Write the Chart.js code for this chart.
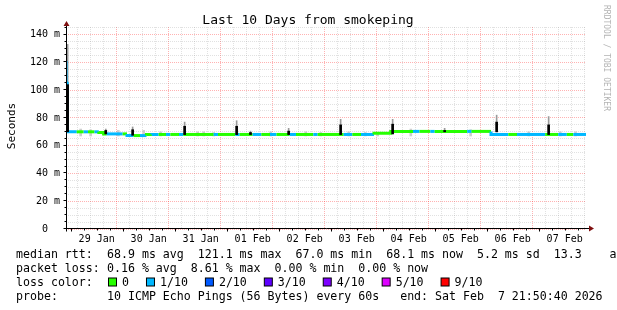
<!DOCTYPE html>
<html>
<head>
<meta charset="utf-8">
<script src="https://cdn.jsdelivr.net/npm/chart.js@4.4.1/dist/chart.umd.min.js"></script>
<style>
  html, body { margin: 0; padding: 0; background: #fff; }
  canvas { display: block; }
</style>
</head>
<body>
<canvas id="chart" width="617" height="310"></canvas>
<script>
// x values are hours relative to 29 Jan 00:00
// graph spans 28 Jan 21:50:40 .. 07 Feb 21:50:40
const START_H = -2.156
const END_H = 237.844

const dayLabels = ['29 Jan', '30 Jan', '31 Jan', '01 Feb', '02 Feb', '03 Feb', '04 Feb', '05 Feb', '06 Feb', '07 Feb']

// median rtt in ms, each value holds until the next entry
const medianHours = [-2.156, -1.6, -0.9, 2.8, 6, 8, 11, 13, 15.2, 16.6, 24, 26, 29, 32, 35, 37.5, 40.6, 44, 46, 50,
  52, 66, 68, 76, 78, 84, 88, 92, 95, 101, 104, 112, 114, 126, 130, 134, 140, 147.7, 154.2, 158,
  161, 166, 168, 183, 185, 194, 202, 206, 219, 225, 229, 232, 237.844]
const medianMs = [121, 105, 70, 70, 70, 70, 70, 70, 69.5, 68.5, 68.5, 68.5, 67.3, 67.3, 67.3, 68, 68.1, 68.1, 68.1, 68.1,
  68.1, 68.1, 68.1, 68.1, 68.1, 68.1, 68.1, 68.1, 68.1, 68.1, 68.1, 68.1, 68.1, 68.1, 68.1, 68.1, 68.1, 69, 70.3, 70.3,
  70.3, 70.3, 70.3, 70.3, 70.3, 70.3, 68.1, 68.1, 68.1, 68.1, 68.1, 68.1, 68.1]
// packet loss bucket of each step (index into lossColors)
const medianLoss = [1, 1, 1, 0, 1, 0, 1, 0, 0, 1, 0, 1, 0, 1, 0, 1, 0, 1, 0, 1,
  0, 1, 0, 1, 0, 1, 0, 1, 0, 1, 0, 1, 0, 1, 0, 1, 0, 0, 0, 1,
  0, 1, 0, 1, 0, 1, 0, 1, 0, 1, 0, 1, 1]

const lossColors = ['#26ff00', '#00b8ff', '#0059ff', '#5e00ff', '#7e00ff', '#dd00ff', '#ff0000']
const lossLabels = ['0', '1/10', '2/10', '3/10', '4/10', '5/10', '9/10']

// faint smoke above the median
const smokeHours = [4.6, 9.2, 22, 33.7, 41.5, 58.6, 61.4, 66, 92.3, 108.5, 115.4, 128.3, 136, 141.7, 157, 184.6, 211.4, 226, 233]
const smokeHigh = [72, 71.5, 71, 71, 70, 70, 70, 69.5, 70, 70, 69.5, 70, 69.5, 69.5, 72, 71.5, 70, 70, 70]

// ping bursts: dark core and grey whisker
const spikeHours = [-1.4, 16.2, 28.6, 52.6, 76.6, 83, 100.6, 124.6, 148.6, 172.6, 196.6, 220.6]
const spikeLow = [70, 68.5, 67.5, 68, 68, 68, 68, 68, 68.5, 70, 70, 68]
const spikeMid = [104, 71, 71.5, 74, 74, 69.5, 70.5, 75, 75.5, 71, 77, 75]
const spikeHigh = [133, 72, 73.5, 77, 78, 70.5, 72.5, 79, 79, 72.5, 82, 81]

const titleText = 'Last 10 Days from smokeping'
const yTitle = 'Seconds'
const watermark = 'RRDTOOL / TOBI OETIKER'
const rttLine = ['median rtt:', '68.9 ms avg  121.1 ms max  67.0 ms min  68.1 ms now  5.2 ms sd  13.3    am/as']
const lossLine = ['packet loss:', '0.16 % avg  8.61 % max  0.00 % min  0.00 % now']
const colorLine = 'loss color:'
const probeLine = ['probe:', '10 ICMP Echo Pings (56 Bytes) every 60s   end: Sat Feb  7 21:50:40 2026']

const MONO = 'DejaVu Sans Mono'
const MAJOR = 'rgba(255,0,0,0.3)'
const MINOR = 'rgba(120,120,120,0.22)'
const ARROW = '#7f1010'

const rrdDecor = {
  id: 'rrdDecor',
  afterDraw(chart) {
    const { ctx, chartArea: a, scales: { x, y } } = chart
    const ax = a.left + 0.5
    const ay = Math.round(y.getPixelForValue(0)) - 0.5
    ctx.save()

    // axes + ticks
    ctx.strokeStyle = '#000'
    ctx.lineWidth = 1
    ctx.beginPath()
    ctx.moveTo(ax, ay + 3)
    ctx.lineTo(ax, a.top - 2)
    ctx.moveTo(ax - 3, ay)
    ctx.lineTo(a.right + 3, ay)
    for (let v = 5; v <= 145; v += 5) {
      const py = Math.round(y.getPixelForValue(v)) - 0.5
      ctx.moveTo(ax - (v % 20 ? 2 : 3), py)
      ctx.lineTo(ax, py)
    }
    for (let h = 0; h <= END_H; h += 6) {
      const px = Math.round(x.getPixelForValue(h)) + 0.5
      ctx.moveTo(px, ay)
      ctx.lineTo(px, ay + (h % 24 ? 2 : 3))
    }
    ctx.stroke()

    // arrow heads
    ctx.fillStyle = ARROW
    ctx.beginPath()
    ctx.moveTo(ax - 3, a.top - 1)
    ctx.lineTo(ax + 3, a.top - 1)
    ctx.lineTo(ax, a.top - 6)
    ctx.closePath()
    ctx.moveTo(a.right + 3, ay - 3)
    ctx.lineTo(a.right + 3, ay + 3)
    ctx.lineTo(a.right + 8, ay)
    ctx.closePath()
    ctx.fill()

    // title
    ctx.fillStyle = '#000'
    ctx.font = '13px "' + MONO + '"'
    ctx.textAlign = 'center'
    ctx.textBaseline = 'alphabetic'
    ctx.fillText(titleText, 308, 24)

    // y title
    ctx.save()
    ctx.translate(12, 126)
    ctx.rotate(-Math.PI / 2)
    ctx.font = '11px "' + MONO + '"'
    ctx.textBaseline = 'middle'
    ctx.fillText(yTitle, 0, 0)
    ctx.restore()

    // watermark
    ctx.save()
    ctx.translate(606, 5)
    ctx.rotate(Math.PI / 2)
    ctx.font = '8px "' + MONO + '"'
    ctx.fillStyle = '#b4b4b4'
    ctx.textAlign = 'left'
    ctx.textBaseline = 'middle'
    ctx.fillText(watermark, 0, 0)
    ctx.restore()

    // legend
    ctx.font = '11.6px "' + MONO + '"'
    ctx.textAlign = 'left'
    ctx.textBaseline = 'middle'
    ctx.fillStyle = '#000'
    const col = 107
    ctx.fillText(rttLine[0], 16, 254.5)
    ctx.fillText(rttLine[1], col, 254.5)
    ctx.fillText(lossLine[0], 16, 268.5)
    ctx.fillText(lossLine[1], col, 268.5)
    ctx.fillText(colorLine, 16, 282.5)
    ctx.fillText(probeLine[0], 16, 296.5)
    ctx.fillText(probeLine[1], col, 296.5)

    let bx = col + 1
    lossLabels.forEach((lbl, i) => {
      ctx.fillStyle = lossColors[i]
      ctx.fillRect(bx + 0.5, 278, 8, 8)
      ctx.strokeStyle = '#000'
      ctx.strokeRect(bx + 0.5, 278, 8, 8)
      ctx.fillStyle = '#000'
      ctx.fillText(lbl, bx + 14, 282.5)
      bx += 14 + ctx.measureText(lbl).width + 17
    })

    ctx.restore()
  }
}

new Chart(document.getElementById('chart'), {
  type: 'line',
  data: {
    datasets: [
      {
        type: 'bar',
        label: 'smoke',
        data: smokeHours.map((h, i) => ({ x: h, y: [67, smokeHigh[i]] })),
        backgroundColor: '#cdcdcd',
        barThickness: 2,
        grouped: false,
        order: 4
      },
      {
        type: 'bar',
        label: 'whisker',
        data: spikeHours.map((h, i) => ({ x: h, y: [spikeLow[i], spikeHigh[i]] })),
        backgroundColor: '#9a9a9a',
        barThickness: 1,
        grouped: false,
        order: 3
      },
      {
        type: 'line',
        label: 'median',
        data: medianHours.map((h, i) => ({ x: h, y: medianMs[i] })),
        stepped: 'after',
        borderWidth: 3,
        borderCapStyle: 'butt',
        pointRadius: 0,
        borderColor: lossColors[0],
        segment: { borderColor: c => lossColors[medianLoss[c.p0DataIndex]] },
        order: 2
      },
      {
        type: 'bar',
        label: 'burst',
        data: spikeHours.map((h, i) => ({ x: h, y: [spikeLow[i], spikeMid[i]] })),
        backgroundColor: '#000',
        barThickness: 2,
        grouped: false,
        order: 1
      }
    ]
  },
  options: {
    responsive: false,
    animation: false,
    layout: { padding: { top: 27, right: 31, left: 0, bottom: 0 } },
    plugins: { legend: { display: false }, tooltip: { enabled: false } },
    scales: {
      x: {
        type: 'linear',
        min: START_H,
        max: END_H,
        offset: false,
        afterBuildTicks: s => {
          s.ticks = []
          for (let h = 0; h <= END_H; h += 6) s.ticks.push({ value: h })
        },
        afterFit: s => { s.height = 81 },
        grid: { color: c => (c.tick && c.tick.value % 24 === 0 ? MAJOR : MINOR), drawTicks: false, lineWidth: 1 },
        border: { display: false, dash: [1, 1] },
        ticks: {
          autoSkip: false,
          maxRotation: 0,
          padding: 4,
          color: '#000',
          font: { family: MONO, size: 10 },
          callback: v => (v % 24 === 12 ? dayLabels[(v - 12) / 24] : '')
        }
      },
      y: {
        min: 0,
        max: 145.5,
        afterBuildTicks: s => {
          s.ticks = []
          for (let v = 0; v <= 145; v += 5) s.ticks.push({ value: v })
        },
        afterFit: s => { s.width = 66 },
        grid: { color: c => (c.tick && c.tick.value % 20 === 0 ? MAJOR : MINOR), drawTicks: false, lineWidth: 1 },
        border: { display: false, dash: [1, 1] },
        ticks: {
          autoSkip: false,
          padding: 6,
          color: '#000',
          font: { family: MONO, size: 10 },
          callback: v => (v % 20 ? '' : (v === 0 ? '0  ' : v + ' m'))
        }
      }
    }
  },
  plugins: [rrdDecor]
})
</script>
</body>
</html>
